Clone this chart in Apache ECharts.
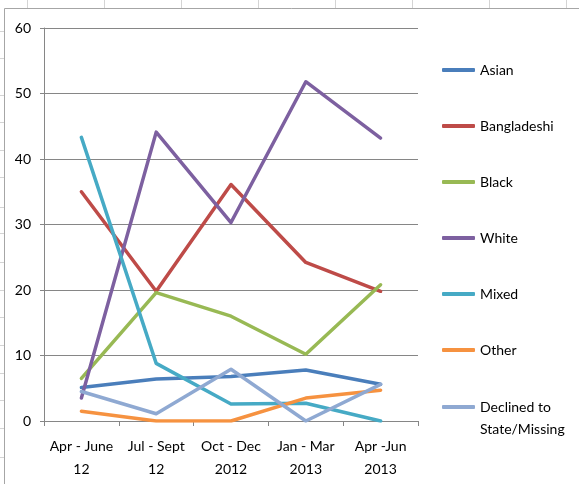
<!DOCTYPE html>
<html>
<head>
<meta charset="utf-8">
<script src="https://cdn.jsdelivr.net/npm/echarts@6/dist/echarts.min.js"></script>
<style>
  html, body { margin: 0; padding: 0; background: #ffffff; }
  #chart { width: 579px; height: 484px; }
</style>
</head>
<body>
<div id="chart"></div>
<script>
// Quarterly categories
const quarters = ['Apr - June\n12', 'Jul - Sept\n12', 'Oct - Dec\n2012', 'Jan - Mar\n2013', 'Apr -Jun\n2013'];

// Values per ethnic group
const asian = [5.1, 6.4, 6.8, 7.8, 5.6];
const bangladeshi = [35.0, 19.8, 36.1, 24.2, 19.8];
const black = [6.5, 19.6, 16.0, 10.2, 20.8];
const white = [3.5, 44.1, 30.3, 51.8, 43.2];
const mixed = [43.3, 8.8, 2.6, 2.7, 0];
const other = [1.5, 0, 0, 3.5, 4.7];
const declined = [4.5, 1.1, 7.9, 0, 5.6];

// Y-axis ticks
const yTicks = [0, 10, 20, 30, 40, 50, 60];

const groups = [
  { name: 'Asian', data: asian, color: '#4A7EBB' },
  { name: 'Bangladeshi', data: bangladeshi, color: '#BE4B48' },
  { name: 'Black', data: black, color: '#98B954' },
  { name: 'White', data: white, color: '#7D60A0' },
  { name: 'Mixed', data: mixed, color: '#46AAC5' },
  { name: 'Other', data: other, color: '#F69240' },
  { name: 'Declined to State/Missing', data: declined, color: '#8FA9D2' }
];

const FONT = 'Lato, "Open Sans", sans-serif';
const axisGray = '#868686';

// Surrounding worksheet cell lines
const sheetLines = [];
[27, 104, 181, 258, 335, 412, 489, 566].forEach(x => {
  sheetLines.push({ type: 'line', shape: { x1: x + 0.5, y1: 0, x2: x + 0.5, y2: 8 }, style: { stroke: '#d4d4d4', lineWidth: 1 }, silent: true });
});
[31, 58, 95, 122, 150, 177, 207, 233, 262, 290, 317, 345, 373, 400, 428, 457].forEach(y => {
  sheetLines.push({ type: 'line', shape: { x1: 0, y1: y + 0.5, x2: 4, y2: y + 0.5 }, style: { stroke: '#d4d4d4', lineWidth: 1 }, silent: true });
});
// Chart frame
sheetLines.push({ type: 'line', shape: { x1: 4.5, y1: 8.5, x2: 4.5, y2: 484 }, style: { stroke: '#a6a6a6', lineWidth: 1 }, silent: true });
sheetLines.push({ type: 'line', shape: { x1: 4.5, y1: 8.5, x2: 579, y2: 8.5 }, style: { stroke: '#a6a6a6', lineWidth: 1 }, silent: true });

const chart = echarts.init(document.getElementById('chart'), null, { renderer: 'canvas' });

chart.setOption({
  animation: false,
  backgroundColor: '#ffffff',
  textStyle: { fontFamily: FONT },
  graphic: sheetLines,
  grid: { left: 44, right: 161, top: 28, bottom: 63, containLabel: false },
  legend: [
    {
      data: groups.slice(0, 6).map(g => g.name),
      orient: 'vertical',
      left: 442,
      top: 62,
      padding: 0,
      itemGap: 40,
      itemWidth: 33,
      itemHeight: 4,
      icon: 'roundRect',
      selectedMode: false,
      textStyle: { fontFamily: FONT, fontSize: 14, color: '#000', lineHeight: 16 }
    },
    {
      data: [groups[6].name],
      orient: 'vertical',
      left: 442,
      top: 374,
      padding: 0,
      itemWidth: 33,
      itemHeight: 4,
      icon: 'roundRect',
      selectedMode: false,
      // leading blank line keeps the first text line level with the icon
      formatter: () => ' \nDeclined to\nState/Missing',
      textStyle: { fontFamily: FONT, fontSize: 14, color: '#000', lineHeight: 22 }
    }
  ],
  xAxis: {
    type: 'category',
    data: quarters,
    boundaryGap: true,
    axisLine: { lineStyle: { color: axisGray, width: 1 } },
    axisTick: { show: true, length: 5, lineStyle: { color: axisGray } },
    axisLabel: { color: '#000', fontSize: 14, lineHeight: 23, margin: 14, fontFamily: FONT, interval: 0 },
    splitLine: { show: false }
  },
  yAxis: {
    type: 'value',
    min: yTicks[0],
    max: yTicks[yTicks.length - 1],
    interval: 10,
    axisLine: { show: true, lineStyle: { color: axisGray, width: 1 } },
    axisTick: { show: true, length: 4, lineStyle: { color: axisGray } },
    axisLabel: { color: '#000', fontSize: 14, margin: 13, fontFamily: FONT },
    splitLine: { show: true, lineStyle: { color: axisGray, width: 1 } }
  },
  series: groups.map(g => ({
    name: g.name,
    type: 'line',
    data: g.data,
    showSymbol: false,
    symbol: 'none',
    color: g.color,
    lineStyle: { color: g.color, width: 3.5, cap: 'round', join: 'round' },
    emphasis: { disabled: true }
  }))
});
</script>
</body>
</html>
